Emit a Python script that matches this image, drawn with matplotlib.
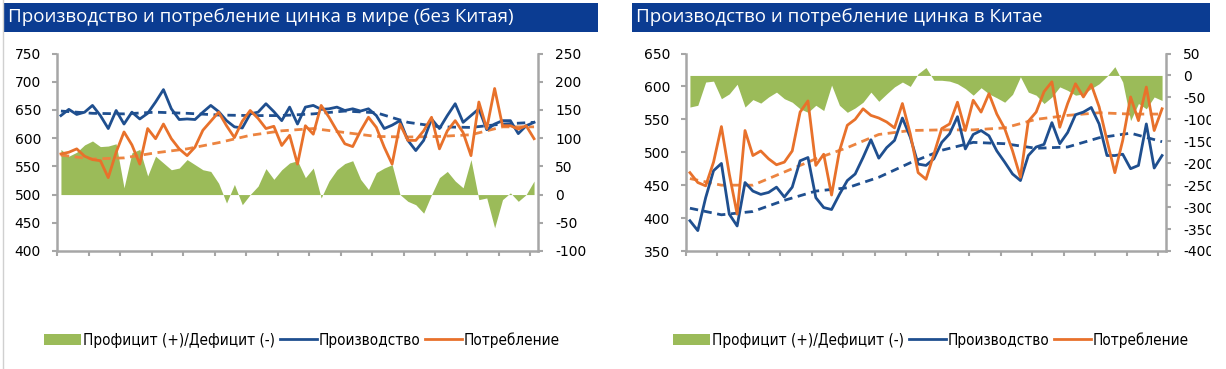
import numpy as np
import matplotlib
matplotlib.use('Agg')
import matplotlib.pyplot as plt
from matplotlib.patches import Patch, Rectangle
from matplotlib.lines import Line2D

plt.rcParams['axes.unicode_minus'] = False

# --- World excl. China, monthly (61 points) ---
world_prod = [640, 651, 642, 646, 658, 640, 617, 649, 625, 646,
              634, 644, 664, 686, 652, 633, 634, 633, 646, 658,
              647, 631, 620, 618, 643, 646, 661, 647, 631, 655,
              625, 655, 658, 651, 652, 655, 649, 652, 648, 652,
              640, 617, 623, 631, 596, 578, 596, 634, 617, 640,
              661, 628, 640, 652, 615, 625, 631, 631, 608, 622, 628]
world_cons = [572, 575, 581, 568, 562, 560, 530, 575, 611, 588,
              554, 617, 599, 625, 599, 581, 569, 584, 614, 630,
              646, 622, 601, 630, 649, 635, 617, 621, 587, 605,
              554, 622, 607, 658, 637, 613, 590, 585, 613, 637,
              619, 584, 554, 625, 596, 596, 613, 637, 581, 613,
              631, 610, 569, 664, 617, 688, 622, 622, 616, 622, 599]
world_balance = [80, 68, 75, 88, 95, 85, 86, 90, 12, 74,
                 80, 33, 68, 56, 44, 47, 62, 53, 44, 41,
                 20, -15, 18, -18, 0, 15, 46, 27, 44, 56,
                 60, 30, 47, -6, 24, 44, 55, 60, 27, 9,
                 39, 47, 53, 0, -12, -18, -33, 0, 30, 41,
                 24, 12, 62, -9, -6, -59, -9, 3, -12, 0, 24]
# trend lines, every 4th month
world_prod_trend = [648, 644, 643, 646, 644, 641, 640, 640, 643, 648, 645, 628, 620, 619, 625, 628]
world_cons_trend = [570, 563, 565, 574, 581, 592, 605, 613, 617, 610, 603, 602, 603, 606, 620, 620]

# --- China ---
china_prod = [396, 381, 431, 472, 483, 406, 388, 454, 441, 436,
              439, 447, 432, 447, 487, 492, 431, 416, 413, 436,
              457, 467, 492, 519, 491, 507, 518, 552, 523, 482,
              480, 490, 515, 528, 554, 505, 527, 533, 525, 502,
              485, 467, 457, 495, 508, 512, 545, 513, 530, 557,
              561, 568, 543, 495, 495, 497, 475, 480, 543, 476, 495]
china_cons = [469, 454, 449, 485, 539, 467, 406, 533, 495, 502,
              490, 481, 485, 502, 561, 578, 480, 497, 435, 502,
              541, 550, 566, 556, 552, 546, 537, 574, 528, 469,
              459, 497, 536, 543, 576, 533, 579, 561, 589, 558,
              536, 502, 462, 547, 561, 592, 607, 538, 574, 604,
              584, 603, 569, 518, 469, 518, 584, 548, 599, 533, 566]
china_balance = [-72, -68, -15, -13, -53, -42, -20, -72, -55, -63,
                 -49, -38, -53, -61, -76, -84, -68, -80, -22, -68,
                 -84, -74, -61, -38, -59, -42, -26, -15, -25, 4,
                 18, -11, -11, -13, -19, -30, -45, -28, -42, -51,
                 -61, -43, -3, -38, -45, -64, -49, -26, -34, -45,
                 -42, -30, -19, -2, 20, -15, -103, -64, -76, -49, -57]
china_prod_trend = [415, 405, 410, 427, 441, 446, 462, 484, 503, 515, 513, 506, 508, 522, 529, 516]
china_cons_trend = [460, 450, 450, 470, 490, 507, 527, 533, 534, 534, 537, 550, 556, 560, 558, 558]

titles = ['Производство и потребление цинка в мире (без Китая)',
          'Производство и потребление цинка в Китае']
legend_labels = ['Профицит (+)/Дефицит (-)', 'Производство', 'Потребление']

BLUE = '#1f4f8f'
ORANGE = '#e8712b'
GREEN = '#9bbb59'
GREY = '#a6a6a6'
BAR = '#0b3c92'

W, H = 1226, 369


def fx(px):
    return px / W


def fy(py):
    return 1 - py / H


def draw_panel(fig, rect, prod, cons, balance, prod_trend, cons_trend,
               ylim, y2lim, step):
    ax = fig.add_axes(rect)
    ax2 = ax.twinx()
    # lines above the area
    ax.set_zorder(ax2.get_zorder() + 1)
    ax.patch.set_visible(False)

    x = np.arange(len(prod))
    xt = np.arange(0, len(prod), 4)
    ax2.fill_between(x, 0, balance, color=GREEN, lw=0)
    ax.plot(xt, prod_trend, color=BLUE, lw=2, ls=(0, (3, 2)))
    ax.plot(xt, cons_trend, color='#ec8440', lw=2, ls=(0, (3, 2)))
    ax.plot(x, prod, color=BLUE, lw=2)
    ax.plot(x, cons, color=ORANGE, lw=2)

    ax.set_xlim(-0.5, len(prod) - 0.5)
    ax.set_ylim(*ylim)
    ax2.set_ylim(*y2lim)
    ax.set_yticks(np.arange(ylim[0], ylim[1] + 1, step))
    ax2.set_yticks(np.arange(y2lim[0], y2lim[1] + 1, step))
    ax.set_xticks(np.arange(-0.5, len(prod) - 1, 4))
    ax.set_xticklabels([])

    for a in (ax, ax2):
        for s in a.spines.values():
            s.set_visible(False)
    for s in ('left', 'bottom'):
        ax.spines[s].set_visible(True)
        ax.spines[s].set_color(GREY)
        ax.spines[s].set_linewidth(1.8)
    ax2.spines['right'].set_visible(True)
    ax2.spines['right'].set_color(GREY)
    ax2.spines['right'].set_linewidth(1.8)

    ax.tick_params(axis='y', direction='out', length=3.5, width=1.5, color=GREY,
                   pad=8, labelsize=10)
    ax.tick_params(axis='x', direction='out', length=3.5, width=1.5, color=GREY)
    ax2.tick_params(axis='y', direction='out', length=3.5, width=1.5, color=GREY,
                    pad=9, labelsize=10)
    return ax


def main():
    fig = plt.figure(figsize=(W / 100, H / 100), dpi=100)

    bottom = fy(251)
    height = (251 - 53.5) / H
    draw_panel(fig, [fx(57), bottom, fx(538) - fx(57), height],
               world_prod, world_cons, world_balance,
               world_prod_trend, world_cons_trend,
               (400, 750), (-100, 250), 50)
    draw_panel(fig, [fx(686), bottom, fx(1166) - fx(686), height],
               china_prod, china_cons, china_balance,
               china_prod_trend, china_cons_trend,
               (350, 650), (-400, 50), 50)

    # title bars
    for (x0, x1), title in zip([(4, 598), (632, 1210)], titles):
        fig.add_artist(Rectangle((fx(x0), fy(32)), fx(x1) - fx(x0), fy(3) - fy(32),
                                 transform=fig.transFigure, color=BAR, lw=0))
        fig.text(fx(x0 + 4), fy(17.5), title, color='white', fontsize=13.5,
                 family=['Open Sans', 'DejaVu Sans'], va='center', ha='left')

    # right tick labels are cut at the image edge
    fig.add_artist(Rectangle((fx(1211), fy(300)), 1, fy(40) - fy(300),
                             transform=fig.transFigure, color='white', lw=0, zorder=5))
    # thin frame line on the left
    fig.add_artist(Line2D([fx(2.5), fx(2.5)], [0, 1], transform=fig.transFigure,
                          color='#d0d0d0', lw=1))

    handles = [Patch(facecolor=GREEN, edgecolor='none'),
               Line2D([], [], color=BLUE, lw=2),
               Line2D([], [], color=ORANGE, lw=2)]
    for cx in (fx(302), fx(931)):
        fig.legend(handles, legend_labels, loc='center', bbox_to_anchor=(cx, fy(340)),
                   ncol=3, frameon=False, handlelength=2.4, handleheight=0.7,
                   handletextpad=0.1, columnspacing=0.35,
                   prop={'family': 'DejaVu Sans', 'stretch': 'condensed', 'size': 11})

    fig.savefig('out.png', dpi=100)


if __name__ == '__main__':
    main()
